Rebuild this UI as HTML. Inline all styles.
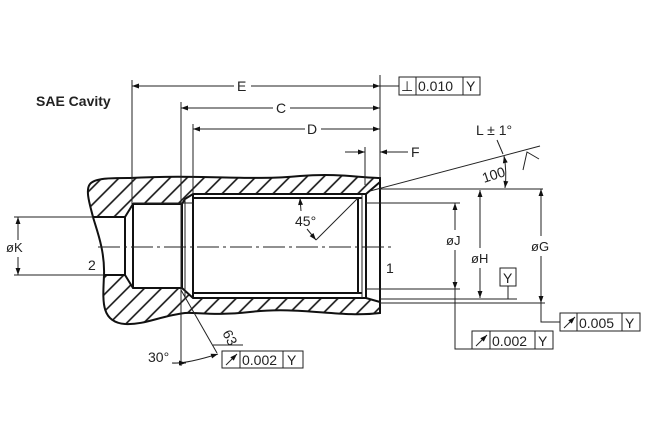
<!DOCTYPE html>
<html><head><meta charset="utf-8"><style>
html,body{margin:0;padding:0;background:#fff;}
svg{display:block;}
text{font-family:"Liberation Sans",Arial,sans-serif;fill:#222;}
</style></head><body>
<svg width="650" height="433" viewBox="0 0 650 433" xmlns="http://www.w3.org/2000/svg">
<defs>
<marker id="a" viewBox="0 0 10 10" refX="10" refY="5" markerWidth="9" markerHeight="7" orient="auto-start-reverse" markerUnits="userSpaceOnUse"><path d="M0,1.5 L10,5 L0,8.5z" fill="#111"/></marker>
<pattern id="h" patternUnits="userSpaceOnUse" width="12" height="12" patternTransform="rotate(-45)"><line x1="0" y1="6" x2="12" y2="6" stroke="#111" stroke-width="1.6"/></pattern>
</defs>
<rect width="650" height="433" fill="#fff"/>
<text x="36" y="106" font-size="14" font-weight="bold" style="fill:#222">SAE Cavity</text>

<!-- hatched regions -->
<path d="M130,178 C200,174 250,181 300,176 C340,173 360,178 380,178 L380,182 L366,194 L193,194 L193,198 L185,199 L182,204 L133,204 L125,217 L93,217 C90,205 85,190 90,184 C95,178 110,178 130,178Z" fill="url(#h)"/>
<path d="M104,275 L125,275 L133,288 L182,288 L193,298 L366,298 L380,302 L380,313 C340,318 300,306 250,312 C215,316 195,312 185,313 C160,316 145,325 125,324 C100,322 103,300 104,275Z" fill="url(#h)"/>

<g fill="none" stroke="#111" stroke-width="2">
<!-- outer outline -->
<path d="M130,178 C200,174 250,181 300,176 C340,173 360,178 380,178 L380,313 C340,318 300,306 250,312 C215,316 195,312 185,313 C160,316 145,325 125,324 C100,322 103,300 104,275 C105,250 96,228 93,217 C90,205 85,190 90,184 C95,178 110,178 130,178"/>
<!-- port -->
<path d="M93,217 L125,217 L125,275 L104,275"/>
<path d="M125,217 L133,204 L182,204 L182,288 L133,288 L125,275"/>
<line x1="133" y1="204" x2="133" y2="288"/>
<!-- thread -->
<path d="M182,204 L185,199 L193,194 L366,194 L380,182"/>
<line x1="193" y1="198" x2="362" y2="198"/>
<line x1="193" y1="194" x2="193" y2="298"/>
<path d="M182,288 L193,298 L366,298 L380,302"/>
<line x1="193" y1="293" x2="362" y2="293"/>
<line x1="358" y1="198" x2="358" y2="293"/>
<line x1="366" y1="194" x2="366" y2="298"/>
</g>

<g fill="none" stroke="#222" stroke-width="1">
<line x1="185" y1="199" x2="185" y2="298"/>
<line x1="362" y1="194" x2="362" y2="298"/>
<!-- centerline -->
<line x1="98" y1="247" x2="395" y2="247" stroke-dasharray="22,4,3,4"/>
<!-- extension lines -->
<line x1="132" y1="80" x2="132" y2="204"/>
<line x1="181" y1="102" x2="181" y2="366"/>
<line x1="193" y1="124" x2="193" y2="194"/>
<line x1="380" y1="75" x2="380" y2="178"/>
<line x1="365" y1="147" x2="365" y2="185"/>
<!-- E C D -->
<line x1="132" y1="86" x2="234" y2="86" marker-start="url(#a)"/>
<line x1="251" y1="86" x2="380" y2="86" marker-end="url(#a)"/>
<line x1="181" y1="108" x2="273" y2="108" marker-start="url(#a)"/>
<line x1="290" y1="108" x2="380" y2="108" marker-end="url(#a)"/>
<line x1="193" y1="129" x2="305" y2="129" marker-start="url(#a)"/>
<line x1="321" y1="129" x2="380" y2="129" marker-end="url(#a)"/>
<!-- F -->
<line x1="345" y1="152" x2="365" y2="152" marker-end="url(#a)"/>
<line x1="408" y1="152" x2="380" y2="152" marker-end="url(#a)"/>
<!-- top FCF -->
<line x1="380" y1="86" x2="399" y2="86"/>
<rect x="399" y="77" width="81" height="18"/>
<line x1="416" y1="77" x2="416" y2="95"/>
<line x1="463" y1="77" x2="463" y2="95"/>
<!-- K -->
<line x1="14" y1="217" x2="93" y2="217"/>
<line x1="14" y1="275" x2="104" y2="275"/>
<line x1="18" y1="217" x2="18" y2="240" marker-start="url(#a)"/>
<line x1="18" y1="257" x2="18" y2="275" marker-end="url(#a)"/>
<!-- 45 -->
<line x1="301" y1="211" x2="300" y2="198" marker-end="url(#a)"/>
<line x1="307" y1="229" x2="316" y2="240" marker-end="url(#a)"/>
<line x1="316" y1="240" x2="358" y2="198"/>
<!-- right ext lines -->
<line x1="380" y1="189" x2="543" y2="189"/>
<line x1="366" y1="203" x2="460" y2="203"/>
<line x1="366" y1="289" x2="460" y2="289"/>
<line x1="380" y1="299" x2="517" y2="299"/>
<line x1="380" y1="303" x2="545" y2="303"/>
<line x1="133" y1="203" x2="193" y2="203"/>
<!-- taper -->
<line x1="370" y1="191" x2="540" y2="146"/>
<line x1="497" y1="140" x2="503" y2="154"/>
<path d="M504,156 Q507,172 505,188" marker-start="url(#a)" marker-end="url(#a)"/>
<path d="M523,170 L527,152 L539,159"/>
<!-- J -->
<line x1="455" y1="203" x2="455" y2="230" marker-start="url(#a)"/>
<line x1="455" y1="250" x2="455" y2="289" marker-end="url(#a)"/>
<path d="M455,289 L455,349 L472,349"/>
<rect x="472" y="331" width="81" height="18"/>
<line x1="490" y1="331" x2="490" y2="349"/>
<line x1="535" y1="331" x2="535" y2="349"/>
<line x1="476" y1="346" x2="487" y2="335" marker-end="url(#a)"/>
<!-- H -->
<line x1="480" y1="190" x2="480" y2="248" marker-start="url(#a)"/>
<line x1="480" y1="268" x2="480" y2="298" marker-end="url(#a)"/>
<rect x="500" y="268" width="16" height="18"/>
<line x1="508" y1="286" x2="508" y2="299"/>
<!-- G -->
<line x1="541" y1="189" x2="541" y2="236" marker-start="url(#a)"/>
<line x1="541" y1="256" x2="541" y2="303" marker-end="url(#a)"/>
<path d="M541,303 L541,322 L560,322"/>
<rect x="560" y="313" width="80" height="18"/>
<line x1="577" y1="313" x2="577" y2="331"/>
<line x1="622" y1="313" x2="622" y2="331"/>
<line x1="564" y1="328" x2="575" y2="317" marker-end="url(#a)"/>
<!-- bottom left -->
<line x1="181" y1="290" x2="217" y2="353"/>
<line x1="213" y1="345" x2="243" y2="345"/>
<path d="M172,363 Q186,364 218,354" marker-end="url(#a)"/>
<line x1="172" y1="363" x2="186" y2="363" marker-end="url(#a)"/>
<rect x="222" y="351" width="81" height="17"/>
<line x1="240" y1="351" x2="240" y2="368"/>
<line x1="283" y1="351" x2="283" y2="368"/>
<line x1="226" y1="365" x2="237" y2="354" marker-end="url(#a)"/>
</g>

<g font-size="14">
<text x="237" y="91">E</text>
<text x="276" y="113">C</text>
<text x="307" y="134">D</text>
<text x="411" y="157">F</text>
<text x="401" y="91" font-size="14">⊥</text>
<text x="418" y="91">0.010</text>
<text x="466" y="91">Y</text>
<text x="6" y="252" font-size="13">øK</text>
<text x="88" y="270">2</text>
<text x="386" y="273">1</text>
<text x="295" y="226">45°</text>
<text x="476" y="135">L ± 1°</text>
<text x="484" y="183" transform="rotate(-18 484 183)">100</text>
<text x="446" y="245" font-size="13">øJ</text>
<text x="471" y="263" font-size="13">øH</text>
<text x="531" y="251" font-size="13">øG</text>
<text x="503" y="283">Y</text>
<text x="492" y="346">0.002</text>
<text x="538" y="346">Y</text>
<text x="579" y="328">0.005</text>
<text x="625" y="328">Y</text>
<text x="148" y="362">30°</text>
<text x="222" y="333" transform="rotate(62 222 333)">63</text>
<text x="242" y="365">0.002</text>
<text x="287" y="365">Y</text>
</g>
</svg>
</body></html>
